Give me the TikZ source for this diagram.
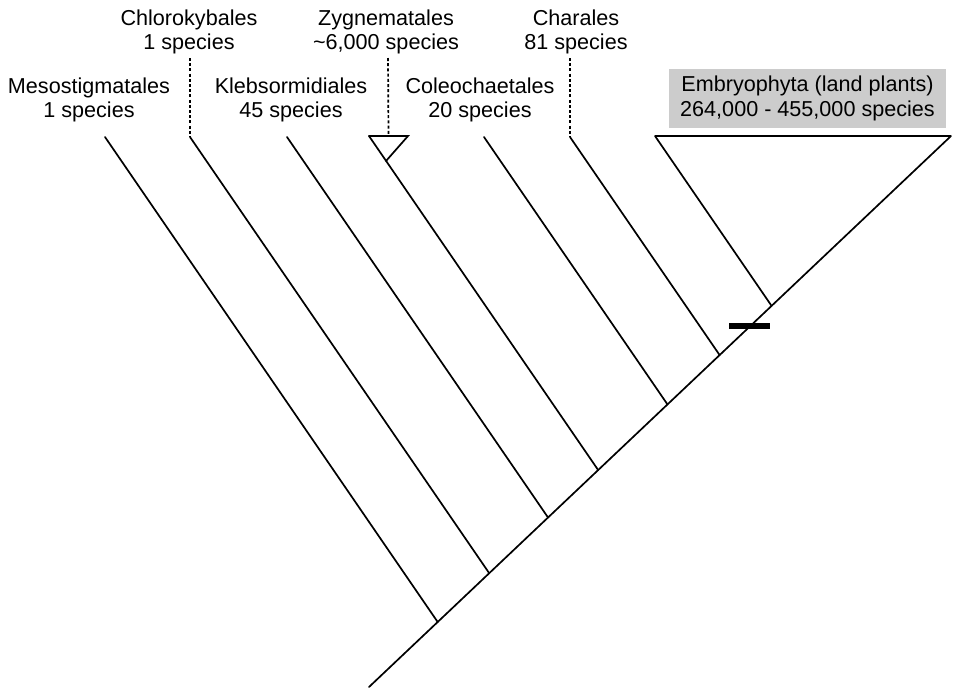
\documentclass[tikz,border=0pt]{standalone}
\usepackage{fontspec}
\setmainfont{Liberation Sans}
\usetikzlibrary{calc}
\tikzset{
  branch/.style={line width=1.7pt, line cap=round},
  dots/.style={line width=1.7pt, dash pattern=on 3pt off 2.2pt},
  taxon/.style={align=center, inner sep=0pt, font=\fontsize{21.6}{24.5}\selectfont},
  boxed/.style={taxon, fill=black!20, inner xsep=6pt, inner ysep=5pt, minimum width=277pt, minimum height=59pt}
}
\begin{document}
\begin{tikzpicture}[x=1pt, y=-1pt]
  \useasboundingbox (0,0) rectangle (953,689);

  % backbone of the tree
  \coordinate (root) at (369,687);
  \coordinate (tip) at (951,136);
  \draw[branch] (root) -- (tip);

  % branch tops
  \coordinate (meso) at (105,137);
  \coordinate (chloro) at (190,137);
  \coordinate (kleb) at (287,137);
  \coordinate (zyg) at (369,136);
  \coordinate (coleo) at (484,137);
  \coordinate (chara) at (570,137);
  \coordinate (embryo) at (655,136);

  % side branches meeting the backbone
  \foreach \t in {meso,chloro,kleb,zyg,coleo,chara,embryo}{
    \draw[branch] (\t) -- (intersection of \t--{$(\t)+(332,484)$} and root--tip);
  }

  % collapsed clades
  \coordinate (zygR) at (408,136);
  \coordinate (zygA) at (386,161);
  \draw[branch] (zyg) -- (zygR) -- (zygA);
  \draw[line width=2.2pt] (embryo) -- (tip);

  % dotted leaders to raised labels
  \coordinate (chloroTop) at (190,58);
  \coordinate (zygTop) at (388,58);
  \coordinate (charaTop) at (570,58);
  \draw[dots] (chloroTop) -- (chloro);
  \draw[dots] (zygTop) -- ($(zyg)!0.5!(zygR)$);
  \draw[dots] (charaTop) -- (chara);

  % origin of land plants marker
  \coordinate (mL) at (729,326);
  \coordinate (mR) at (770,326);
  \draw[line width=6pt] (mL) -- (mR);

  % labels
  \node[taxon] (tMeso) at (89,100) {Mesostigmatales\\1 species};
  \node[taxon] (tChloro) at (189,32) {Chlorokybales\\1 species};
  \node[taxon] (tKleb) at (291,100) {Klebsormidiales\\45 species};
  \node[taxon] (tZyg) at (386,32) {Zygnematales\\\textasciitilde 6,000 species};
  \node[taxon] (tColeo) at (480,100) {Coleochaetales\\20 species};
  \node[taxon] (tChara) at (576,32) {Charales\\81 species};
  \node[boxed] (tEmbryo) at (807.5,98.5) {Embryophyta (land plants)\\264,000 - 455,000 species};
\end{tikzpicture}
\end{document}
